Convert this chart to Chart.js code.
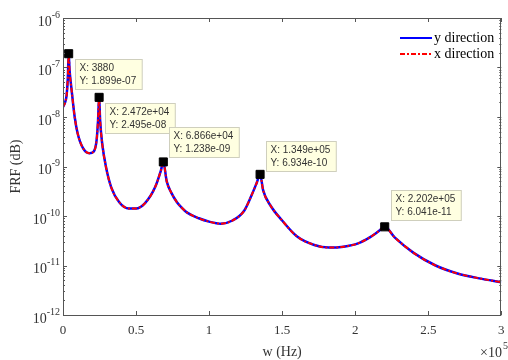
<!DOCTYPE html>
<html>
<head>
<meta charset="utf-8">
<script src="https://cdn.jsdelivr.net/npm/chart.js@4.4.0/dist/chart.umd.min.js"></script>
<style>
  body { margin: 0; background: #fff; }
</style>
</head>
<body>
<canvas id="frfChart" width="508" height="360"></canvas>
<script>
// ==================== DONNEES ====================
const freqHz = [0, 1500, 2500, 3300, 3880, 4500, 5900, 8000, 10000, 13500,
    18000, 21000, 23000, 24000, 24720, 25400, 26800, 29500, 33000, 38500,
    45000, 50000, 56000, 63000, 67000, 68660, 71000, 74000, 78000, 81000, 85000, 93000,
    100000, 108000, 116000, 124000, 129000, 132500, 134900, 137000, 142000, 150000,
    160000, 172000, 182000, 192000, 202000, 210000, 216000, 220200, 227000, 240000,
    255000, 270000, 285000, 300000];

const yDirection = [1.6e-8, 2.0e-8, 2.8e-8, 6.1e-8, 1.899e-7, 8.9e-8, 3.5e-8, 1.0e-8, 4.7e-9, 2.4e-9,
    1.85e-9, 2.0e-9, 3.4e-9, 8.7e-9, 2.495e-8, 8.7e-9, 2.95e-9, 9.5e-10, 3.8e-10, 1.9e-10,
    1.42e-10, 1.42e-10, 1.8e-10, 3.8e-10, 8.3e-10, 1.238e-9, 5.0e-10, 3.0e-10, 1.9e-10, 1.5e-10, 1.17e-10, 9.0e-11,
    7.7e-11, 7.0e-11, 8.1e-11, 1.28e-10, 2.6e-10, 4.6e-10, 6.934e-10, 3.3e-10, 1.63e-10, 8.1e-11,
    3.9e-11, 2.6e-11, 2.3e-11, 2.4e-11, 2.8e-11, 3.7e-11, 4.9e-11, 6.041e-11, 3.7e-11, 1.8e-11,
    1.0e-11, 6.9e-12, 5.5e-12, 4.6e-12];

const xDirection = [1.6e-8, 2.0e-8, 2.8e-8, 6.1e-8, 1.899e-7, 8.9e-8, 3.5e-8, 1.0e-8, 4.7e-9, 2.4e-9,
    1.85e-9, 2.0e-9, 3.4e-9, 8.7e-9, 2.495e-8, 8.7e-9, 2.95e-9, 9.5e-10, 3.8e-10, 1.9e-10,
    1.42e-10, 1.42e-10, 1.8e-10, 3.8e-10, 8.3e-10, 1.238e-9, 5.0e-10, 3.0e-10, 1.9e-10, 1.5e-10, 1.17e-10, 9.0e-11,
    7.7e-11, 7.0e-11, 8.1e-11, 1.28e-10, 2.6e-10, 4.6e-10, 6.934e-10, 3.3e-10, 1.63e-10, 8.1e-11,
    3.9e-11, 2.6e-11, 2.3e-11, 2.4e-11, 2.8e-11, 3.7e-11, 4.9e-11, 6.041e-11, 3.7e-11, 1.8e-11,
    1.0e-11, 6.9e-12, 5.5e-12, 4.6e-12];

// data tips (pics)
const tipX = ['3880', '2.472e+04', '6.866e+04', '1.349e+05', '2.202e+05'];
const tipY = ['1.899e-07', '2.495e-08', '1.238e-09', '6.934e-10', '6.041e-11'];
const peakHz = [3880, 24720, 68660, 134900, 220200];
const peakVal = [1.899e-7, 2.495e-8, 1.238e-9, 6.934e-10, 6.041e-11];

// axes
const xTicks = [0, 50000, 100000, 150000, 200000, 250000, 300000];
const xTickLabels = ['0', '0.5', '1', '1.5', '2', '2.5', '3'];
const yTicks = [1e-12, 1e-11, 1e-10, 1e-9, 1e-8, 1e-7, 1e-6];
const yTickExp = ['-12', '-11', '-10', '-9', '-8', '-7', '-6'];
const seriesNames = ['y direction', 'x direction'];

// placement des bulles (décalage vertical par rapport au marqueur)
const tipOffsets = [5, 6, -35, -33, -37];

const SERIF = '"Liberation Serif", "DejaVu Serif", serif';
const SANS = '"Liberation Sans", Arial, sans-serif';

const framePlugin = {
    id: 'frame',
    afterDatasetsDraw(chart) {
        const ctx = chart.ctx;
        const area = chart.chartArea;
        const xs = chart.scales.x;
        const ys = chart.scales.y;
        ctx.save();

        // cadre
        ctx.strokeStyle = '#555';
        ctx.lineWidth = 1;
        ctx.strokeRect(Math.round(area.left) + 0.5, Math.round(area.top) + 0.5,
            Math.round(area.right - area.left) - 1, Math.round(area.bottom - area.top));

        // graduations x
        ctx.beginPath();
        xTicks.forEach(v => {
            const px = Math.round(xs.getPixelForValue(v)) + 0.5;
            ctx.moveTo(px, area.bottom); ctx.lineTo(px, area.bottom - 4);
            ctx.moveTo(px, area.top); ctx.lineTo(px, area.top + 4);
        });
        // graduations y (majeures + mineures)
        yTicks.forEach(d => {
            const py = Math.round(ys.getPixelForValue(d)) + 0.5;
            ctx.moveTo(area.left, py); ctx.lineTo(area.left + 4, py);
            ctx.moveTo(area.right, py); ctx.lineTo(area.right - 4, py);
            for (let k = 2; k <= 9; k++) {
                const v = d * k;
                if (v >= ys.max) break;
                const pm = Math.round(ys.getPixelForValue(v)) + 0.5;
                ctx.moveTo(area.left, pm); ctx.lineTo(area.left + 2, pm);
                ctx.moveTo(area.right, pm); ctx.lineTo(area.right - 2, pm);
            }
        });
        ctx.stroke();

        // libellés x
        ctx.fillStyle = '#333';
        ctx.font = '13px ' + SERIF;
        ctx.textAlign = 'center';
        ctx.textBaseline = 'middle';
        xTicks.forEach((v, i) => {
            ctx.fillText(xTickLabels[i], xs.getPixelForValue(v), area.bottom + 16);
        });

        // libellés y : 10^n
        yTicks.forEach((d, i) => {
            const py = ys.getPixelForValue(d);
            ctx.font = '10px ' + SERIF;
            const ew = ctx.measureText(yTickExp[i]).width;
            ctx.textAlign = 'right';
            ctx.fillText(yTickExp[i], area.left - 3, py - 3);
            ctx.font = '14px ' + SERIF;
            ctx.fillText('10', area.left - 3 - ew, py + 4);
        });

        // titres
        ctx.font = '14px ' + SERIF;
        ctx.textAlign = 'center';
        ctx.fillText('w (Hz)', (area.left + area.right) / 2, 352);
        ctx.save();
        ctx.translate(16, (area.top + area.bottom) / 2);
        ctx.rotate(-Math.PI / 2);
        ctx.fillText('FRF (dB)', 0, 0);
        ctx.restore();

        // facteur ×10^5
        ctx.textAlign = 'right';
        ctx.font = '10px ' + SERIF;
        ctx.fillText('5', 508, 346);
        ctx.font = '14px ' + SERIF;
        ctx.fillText('\u00d710', 502, 353);

        // légende
        ctx.textAlign = 'left';
        ctx.font = '14px ' + SERIF;
        const legendY = [38, 54];
        ctx.lineWidth = 2;
        ctx.strokeStyle = '#0000ff';
        ctx.setLineDash([]);
        ctx.beginPath(); ctx.moveTo(400, legendY[0]); ctx.lineTo(432, legendY[0]); ctx.stroke();
        ctx.strokeStyle = '#ff0000';
        ctx.setLineDash([5, 2, 2, 2]);
        ctx.beginPath(); ctx.moveTo(400, legendY[1]); ctx.lineTo(432, legendY[1]); ctx.stroke();
        ctx.setLineDash([]);
        ctx.fillStyle = '#000';
        ctx.fillText(seriesNames[0], 434, legendY[0]);
        ctx.fillText(seriesNames[1], 434, legendY[1]);

        // bulles de data tips
        ctx.font = '10px ' + SANS;
        peakHz.forEach((hz, i) => {
            const mx = xs.getPixelForValue(hz);
            const my = ys.getPixelForValue(peakVal[i]);
            const l1 = 'X: ' + tipX[i];
            const l2 = 'Y: ' + tipY[i];
            const w = Math.max(ctx.measureText(l1).width, ctx.measureText(l2).width) + 10;
            const h = 30;
            const bx = Math.round(mx + 6) + 0.5;
            const by = Math.round(my + tipOffsets[i]) + 0.5;
            ctx.fillStyle = '#ffffe1';
            ctx.strokeStyle = '#cfcfbd';
            ctx.lineWidth = 1;
            ctx.fillRect(bx, by, w, h);
            ctx.strokeRect(bx, by, w, h);
            ctx.fillStyle = '#333';
            ctx.textBaseline = 'middle';
            ctx.fillText(l1, bx + 4, by + 9);
            ctx.fillText(l2, bx + 4, by + 22);
        });

        ctx.restore();
    }
};

new Chart(document.getElementById('frfChart'), {
    type: 'line',
    data: {
        datasets: [{
            label: 'tips',
            type: 'scatter',
            data: peakHz.map((x, i) => ({ x: x, y: peakVal[i] })),
            pointStyle: 'rect',
            pointRadius: 5.7,
            pointBackgroundColor: '#000',
            pointBorderColor: '#000',
            showLine: false
        }, {
            label: seriesNames[1],
            data: freqHz.map((x, i) => ({ x: x, y: xDirection[i] })),
            borderColor: '#ff0000',
            borderWidth: 2,
            borderDash: [5, 2, 2, 2],
            pointRadius: 0,
            cubicInterpolationMode: 'monotone',
            fill: false
        }, {
            label: seriesNames[0],
            data: freqHz.map((x, i) => ({ x: x, y: yDirection[i] })),
            borderColor: '#0000ff',
            borderWidth: 2.5,
            pointRadius: 0,
            cubicInterpolationMode: 'monotone',
            fill: false
        }]
    },
    options: {
        responsive: false,
        animation: false,
        events: [],
        layout: { padding: { top: 18, right: 1, left: 0, bottom: 0 } },
        plugins: {
            legend: { display: false },
            tooltip: { enabled: false }
        },
        scales: {
            x: {
                type: 'linear',
                min: 0,
                max: 300000,
                grid: { display: false },
                border: { display: false },
                ticks: { display: false },
                afterBuildTicks: s => { s.ticks = xTicks.map(v => ({ value: v })); },
                afterFit: s => { s.height = 45; }
            },
            y: {
                type: 'logarithmic',
                min: 1e-12,
                max: 1e-6,
                grid: { display: false },
                border: { display: false },
                ticks: { display: false },
                afterBuildTicks: s => { s.ticks = yTicks.map(v => ({ value: v })); },
                afterFit: s => { s.width = 63; }
            }
        }
    },
    plugins: [framePlugin]
});
</script>
</body>
</html>
